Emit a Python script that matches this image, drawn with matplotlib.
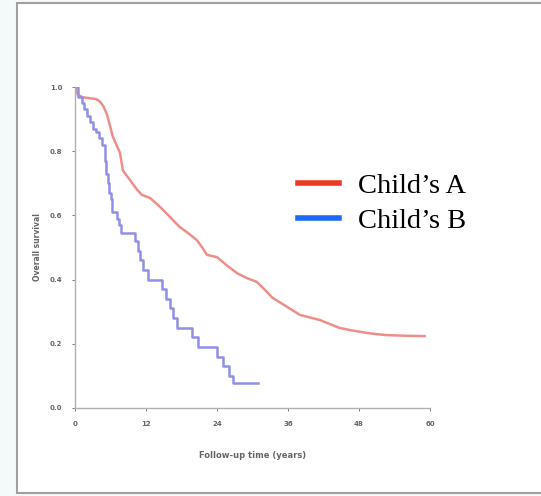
import matplotlib.pyplot as plt
from matplotlib.lines import Line2D
from matplotlib.patches import Rectangle

# Child's A (red): follow-up time (years) and survival
a_time = [0, 0.5, 1.3, 2.5, 3.6, 4.2, 4.8, 5.4, 5.9, 6.4, 7.0, 7.6, 8.1, 8.7,
          9.3, 10.5, 11.3, 12.7, 13.8, 14.9, 16.3, 17.7, 19.1, 20.6, 21.5,
          22.3, 24.0, 25.6, 27.4, 29.0, 30.7, 32.0, 33.4, 35.6, 38.0, 39.7,
          41.4, 43.0, 44.8, 47.0, 49.3, 51.0, 52.7, 56.0, 59.1]
a_surv = [1.0, 0.975, 0.968, 0.965, 0.962, 0.955, 0.94, 0.915, 0.88, 0.845,
          0.82, 0.795, 0.74, 0.725, 0.71, 0.68, 0.664, 0.654, 0.636, 0.617,
          0.59, 0.564, 0.545, 0.523, 0.50, 0.477, 0.47, 0.445, 0.42, 0.405,
          0.393, 0.37, 0.343, 0.318, 0.29, 0.282, 0.274, 0.262, 0.249, 0.241,
          0.234, 0.230, 0.227, 0.225, 0.224]

# Child's B (blue)
b_time = [0, 0.5, 1.2, 1.5, 2.0, 2.5, 3.0, 3.5, 4.0, 4.6, 5.0, 5.1, 5.3, 5.5,
          5.8, 6.0, 6.3, 7.1, 7.5, 7.7, 10.1, 10.6, 11.0, 11.5, 12.3, 14.7,
          15.3, 16.0, 16.5, 17.2, 19.8, 20.8, 24.0, 25.0, 26.0, 26.7, 30.9]
b_surv = [1.0, 0.97, 0.95, 0.93, 0.91, 0.89, 0.87, 0.86, 0.84, 0.82, 0.80,
          0.77, 0.73, 0.70, 0.67, 0.65, 0.61, 0.59, 0.57, 0.545, 0.52, 0.49,
          0.46, 0.43, 0.40, 0.37, 0.34, 0.31, 0.28, 0.25, 0.22, 0.19, 0.16,
          0.13, 0.10, 0.078, 0.078]

x_ticks = [0, 12, 24, 36, 48, 60]
y_ticks = [0.0, 0.2, 0.4, 0.6, 0.8, 1.0]
labels = ["Child\u2019s A", "Child\u2019s B"]

W, H = 541, 496
fig = plt.figure(figsize=(W / 100, H / 100), dpi=100)
fig.patch.set_facecolor("#f4f9fa")

# white slide panel with grey border, kept behind the axes
fig.patches.append(Rectangle((17 / W, 3 / H), 526 / W, 490 / H,
                             transform=fig.transFigure, facecolor="white",
                             edgecolor="#a0a0a0", linewidth=1.5, zorder=-5))

ax = fig.add_axes([75 / W, 1 - 408 / H, 355 / W, 321 / H])
ax.patch.set_alpha(0)
# many small steps for A, so it reads as a smooth line
ax.plot(a_time, a_surv, color="#ec8f8a", lw=1.8)
ax.step(b_time, b_surv, where="post", color="#9090e6", lw=1.8)

ax.set_xlim(0, 60)
ax.set_ylim(0, 1.0)
ax.set_xticks(x_ticks)
ax.set_xticklabels([str(t) for t in x_ticks])
ax.set_yticks(y_ticks)
ax.set_yticklabels([f"{t:.1f}" for t in y_ticks])
ax.tick_params(labelsize=5, colors="#666666", length=2, width=0.6, pad=7)
for lbl in ax.get_xticklabels() + ax.get_yticklabels():
    lbl.set_fontweight("bold")
for side in ["top", "right"]:
    ax.spines[side].set_visible(False)
for side in ["left", "bottom"]:
    ax.spines[side].set_color("#b0b0b0")
    ax.spines[side].set_linewidth(1.0)
ax.set_xlabel("Follow-up time (years)", fontsize=6, color="#666666",
              fontweight="bold", labelpad=18)
ax.set_ylabel("Overall survival", fontsize=5.5, color="#666666",
              fontweight="bold", labelpad=6)

handles = [Line2D([], [], color="#ec3a22", lw=4),
           Line2D([], [], color="#1a6cf5", lw=4)]
fig.legend(handles, labels, loc="upper left",
           bbox_to_anchor=(298 / W, 1 - 173 / H), frameon=False,
           prop={"family": "Liberation Serif", "size": 20.5},
           handlelength=1.45, handletextpad=0.65, labelspacing=0.32,
           borderaxespad=0, borderpad=0)

fig.savefig("out.png", dpi=100)
